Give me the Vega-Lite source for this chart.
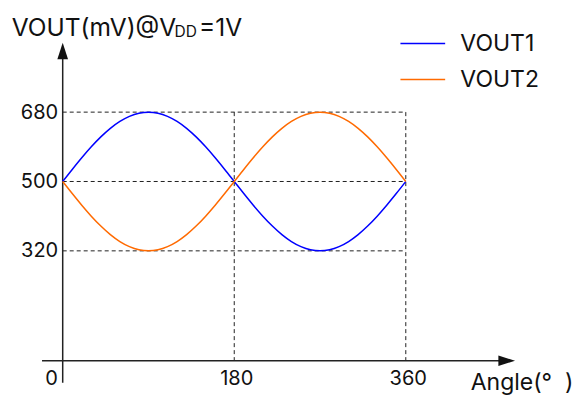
{
  "$schema": "https://vega.github.io/schema/vega-lite/v6.json",
  "width": 452.3,
  "height": 318,
  "autosize": {"type": "none"},
  "padding": {"left": 62.7, "top": 42.7, "right": 57, "bottom": 35.3},
  "background": "white",
  "config": {
    "view": {"stroke": null},
    "font": "Inter",
    "axis": {"labelFont": "Inter", "labelColor": "#111", "domain": false, "ticks": false, "tickSize": 0, "grid": false, "title": null}
  },
  "datasets": {
    "curves": [
      {"angle": 0, "series": "VOUT1", "mv": 500}, {"angle": 10, "series": "VOUT1", "mv": 531.3}, {"angle": 20, "series": "VOUT1", "mv": 561.6},
      {"angle": 30, "series": "VOUT1", "mv": 590}, {"angle": 40, "series": "VOUT1", "mv": 615.7}, {"angle": 50, "series": "VOUT1", "mv": 637.9},
      {"angle": 60, "series": "VOUT1", "mv": 655.9}, {"angle": 70, "series": "VOUT1", "mv": 669.1}, {"angle": 80, "series": "VOUT1", "mv": 677.3},
      {"angle": 90, "series": "VOUT1", "mv": 680}, {"angle": 100, "series": "VOUT1", "mv": 677.3}, {"angle": 110, "series": "VOUT1", "mv": 669.1},
      {"angle": 120, "series": "VOUT1", "mv": 655.9}, {"angle": 130, "series": "VOUT1", "mv": 637.9}, {"angle": 140, "series": "VOUT1", "mv": 615.7},
      {"angle": 150, "series": "VOUT1", "mv": 590}, {"angle": 160, "series": "VOUT1", "mv": 561.6}, {"angle": 170, "series": "VOUT1", "mv": 531.3},
      {"angle": 180, "series": "VOUT1", "mv": 500}, {"angle": 190, "series": "VOUT1", "mv": 468.7}, {"angle": 200, "series": "VOUT1", "mv": 438.4},
      {"angle": 210, "series": "VOUT1", "mv": 410}, {"angle": 220, "series": "VOUT1", "mv": 384.3}, {"angle": 230, "series": "VOUT1", "mv": 362.1},
      {"angle": 240, "series": "VOUT1", "mv": 344.1}, {"angle": 250, "series": "VOUT1", "mv": 330.9}, {"angle": 260, "series": "VOUT1", "mv": 322.7},
      {"angle": 270, "series": "VOUT1", "mv": 320}, {"angle": 280, "series": "VOUT1", "mv": 322.7}, {"angle": 290, "series": "VOUT1", "mv": 330.9},
      {"angle": 300, "series": "VOUT1", "mv": 344.1}, {"angle": 310, "series": "VOUT1", "mv": 362.1}, {"angle": 320, "series": "VOUT1", "mv": 384.3},
      {"angle": 330, "series": "VOUT1", "mv": 410}, {"angle": 340, "series": "VOUT1", "mv": 438.4}, {"angle": 350, "series": "VOUT1", "mv": 468.7},
      {"angle": 360, "series": "VOUT1", "mv": 500},
      {"angle": 0, "series": "VOUT2", "mv": 500}, {"angle": 10, "series": "VOUT2", "mv": 468.7}, {"angle": 20, "series": "VOUT2", "mv": 438.4},
      {"angle": 30, "series": "VOUT2", "mv": 410}, {"angle": 40, "series": "VOUT2", "mv": 384.3}, {"angle": 50, "series": "VOUT2", "mv": 362.1},
      {"angle": 60, "series": "VOUT2", "mv": 344.1}, {"angle": 70, "series": "VOUT2", "mv": 330.9}, {"angle": 80, "series": "VOUT2", "mv": 322.7},
      {"angle": 90, "series": "VOUT2", "mv": 320}, {"angle": 100, "series": "VOUT2", "mv": 322.7}, {"angle": 110, "series": "VOUT2", "mv": 330.9},
      {"angle": 120, "series": "VOUT2", "mv": 344.1}, {"angle": 130, "series": "VOUT2", "mv": 362.1}, {"angle": 140, "series": "VOUT2", "mv": 384.3},
      {"angle": 150, "series": "VOUT2", "mv": 410}, {"angle": 160, "series": "VOUT2", "mv": 438.4}, {"angle": 170, "series": "VOUT2", "mv": 468.7},
      {"angle": 180, "series": "VOUT2", "mv": 500}, {"angle": 190, "series": "VOUT2", "mv": 531.3}, {"angle": 200, "series": "VOUT2", "mv": 561.6},
      {"angle": 210, "series": "VOUT2", "mv": 590}, {"angle": 220, "series": "VOUT2", "mv": 615.7}, {"angle": 230, "series": "VOUT2", "mv": 637.9},
      {"angle": 240, "series": "VOUT2", "mv": 655.9}, {"angle": 250, "series": "VOUT2", "mv": 669.1}, {"angle": 260, "series": "VOUT2", "mv": 677.3},
      {"angle": 270, "series": "VOUT2", "mv": 680}, {"angle": 280, "series": "VOUT2", "mv": 677.3}, {"angle": 290, "series": "VOUT2", "mv": 669.1},
      {"angle": 300, "series": "VOUT2", "mv": 655.9}, {"angle": 310, "series": "VOUT2", "mv": 637.9}, {"angle": 320, "series": "VOUT2", "mv": 615.7},
      {"angle": 330, "series": "VOUT2", "mv": 590}, {"angle": 340, "series": "VOUT2", "mv": 561.6}, {"angle": 350, "series": "VOUT2", "mv": 531.3},
      {"angle": 360, "series": "VOUT2", "mv": 500}
    ],
    "hgrid": [{"mv": 320}, {"mv": 500}, {"mv": 680}],
    "vgrid": [{"angle": 180}, {"angle": 360}],
    "one": [{}]
  },
  "layer": [
    {
      "data": {"name": "hgrid"},
      "mark": {"type": "rule", "color": "#222", "strokeWidth": 1, "strokeDash": [4, 3]},
      "encoding": {
        "y": {"field": "mv", "type": "quantitative", "scale": {"domain": [34.9, 860.2], "zero": false, "nice": false},
              "axis": {"values": [320, 500, 680], "orient": "left", "labelFontSize": 20, "labelPadding": 5}},
        "x": {"datum": 0, "type": "quantitative", "scale": {"domain": [0, 474.6], "zero": false, "nice": false},
              "axis": {"values": [180, 360], "orient": "bottom", "labelFontSize": 20, "labelPadding": 8, "labelOffset": 2}},
        "x2": {"datum": 360}
      }
    },
    {
      "data": {"name": "vgrid"},
      "mark": {"type": "rule", "color": "#222", "strokeWidth": 1, "strokeDash": [4, 3]},
      "encoding": {
        "x": {"field": "angle", "type": "quantitative"},
        "y": {"datum": 680, "type": "quantitative"},
        "y2": {"datum": 34.9}
      }
    },
    {
      "data": {"name": "one"},
      "mark": {"type": "rule", "color": "#222", "strokeWidth": 1.5},
      "encoding": {
        "x": {"datum": -21.7, "type": "quantitative"},
        "x2": {"datum": 466},
        "y": {"datum": 34.9, "type": "quantitative"}
      }
    },
    {
      "data": {"name": "one"},
      "mark": {"type": "rule", "color": "#222", "strokeWidth": 1.5},
      "encoding": {
        "x": {"datum": 0, "type": "quantitative"},
        "y": {"datum": -22.2, "type": "quantitative"},
        "y2": {"datum": 845}
      }
    },
    {
      "data": {"name": "one"},
      "mark": {"type": "point", "filled": true, "color": "#111", "opacity": 1, "size": 276, "shape": "M0,-1L0.645,1L-0.645,1Z", "strokeWidth": 0},
      "encoding": {
        "x": {"datum": 0, "type": "quantitative"},
        "y": {"datum": 838.7, "type": "quantitative"}
      }
    },
    {
      "data": {"name": "one"},
      "mark": {"type": "point", "filled": true, "color": "#111", "opacity": 1, "size": 279, "shape": "M1,0L-1,0.62L-1,-0.62Z", "strokeWidth": 0},
      "encoding": {
        "x": {"datum": 465.9, "type": "quantitative"},
        "y": {"datum": 34.9, "type": "quantitative"}
      }
    },
    {
      "data": {"name": "curves"},
      "mark": {"type": "line", "strokeWidth": 1.5, "interpolate": "monotone"},
      "encoding": {
        "x": {"field": "angle", "type": "quantitative"},
        "y": {"field": "mv", "type": "quantitative"},
        "color": {"field": "series", "type": "nominal",
                  "scale": {"domain": ["VOUT1", "VOUT2"], "range": ["#0000ff", "#ff6a00"]},
                  "legend": {"title": null, "orient": "none", "legendX": 336.6, "legendY": -22.7, "padding": 0,
                             "symbolType": "stroke", "symbolSize": 2000, "symbolStrokeWidth": 1.5,
                             "labelFont": "Inter", "labelFontSize": 23, "labelColor": "#111", "labelOffset": 14, "rowPadding": -9.3}}
      }
    },
    {
      "data": {"name": "one"},
      "mark": {"type": "text", "text": "0", "align": "center", "baseline": "alphabetic", "fontSize": 20, "color": "#111"},
      "encoding": {"x": {"datum": -11.6, "type": "quantitative"}, "y": {"datum": -28.2, "type": "quantitative"}}
    },
    {
      "data": {"name": "one"},
      "mark": {"type": "text", "text": "VOUT(mV)@V", "align": "left", "baseline": "alphabetic", "fontSize": 24.5, "color": "#111"},
      "encoding": {"x": {"datum": -53.5, "type": "quantitative"}, "y": {"datum": 877.6, "type": "quantitative"}}
    },
    {
      "data": {"name": "one"},
      "mark": {"type": "text", "text": "DD", "align": "left", "baseline": "alphabetic", "fontSize": 15.5, "color": "#111"},
      "encoding": {"x": {"datum": 117.3, "type": "quantitative"}, "y": {"datum": 874.3, "type": "quantitative"}}
    },
    {
      "data": {"name": "one"},
      "mark": {"type": "text", "text": "=1V", "align": "left", "baseline": "alphabetic", "fontSize": 24.5, "color": "#111"},
      "encoding": {"x": {"datum": 143.0, "type": "quantitative"}, "y": {"datum": 877.6, "type": "quantitative"}}
    },
    {
      "data": {"name": "one"},
      "mark": {"type": "text", "text": "Angle(°\u00a0\u00a0)", "align": "left", "baseline": "alphabetic", "fontSize": 23, "color": "#111"},
      "encoding": {"x": {"datum": 428.1, "type": "quantitative"}, "y": {"datum": -41, "type": "quantitative"}}
    }
  ]
}
